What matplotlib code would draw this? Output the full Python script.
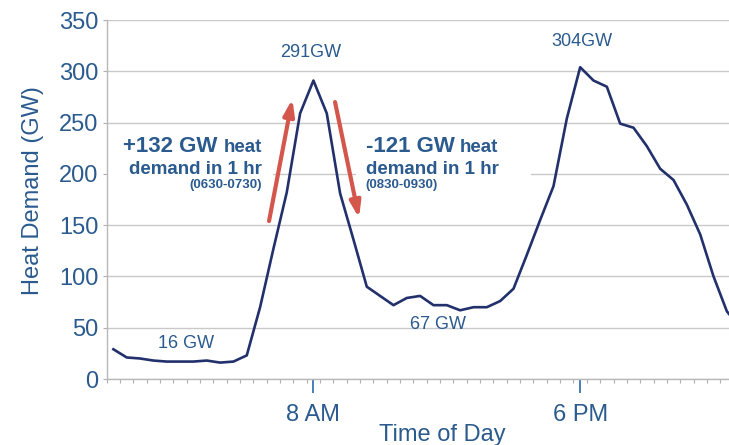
import matplotlib
matplotlib.use("Agg")
import matplotlib.pyplot as plt
import numpy as np
from matplotlib.patches import Rectangle

plt.rcParams["font.family"] = ["Liberation Sans", "DejaVu Sans"]

# half-hourly heat demand (GW), 00:30 .. 24:00
hours = np.arange(0.5, 24.01, 0.5)
demand = [29, 21, 20, 18, 17, 17, 17, 18, 16, 17,
          23, 70, 127, 182, 259, 291, 259, 181, 136, 90,
          81, 72, 79, 81, 72, 72, 67, 70, 70, 76,
          88, 121, 155, 188, 254, 304, 291, 285, 249, 245,
          227, 205, 194, 170, 141, 100, 66, 50]

major_ticks = [8, 18]
major_labels = ["8 AM", "6 PM"]
y_ticks = [0, 50, 100, 150, 200, 250, 300, 350]

# point labels: (hour, GW, text)
point_labels = [(7.9, 318, "291GW"), (18.05, 329, "304GW"),
                (3.23, 35, "16 GW"), (12.66, 53, "67 GW")]

TEXT = "#2a5a8e"
LINE = "#22306c"
RED = "#d4574e"
GRID = "#c9c9c9"

fig = plt.figure(figsize=(7.29, 4.45), dpi=100)
ax = fig.add_axes([0.1464, 0.1483, 0.8536, 0.8067])

ax.plot(hours, demand, color=LINE, lw=1.9, zorder=4)

ax.set_xlim(0.25, 23.58)
ax.set_ylim(0, 350)
ax.set_yticks(y_ticks)
ax.yaxis.grid(True, color=GRID, lw=1.0)
ax.set_axisbelow(True)

ax.set_xticks(major_ticks)
ax.set_xticklabels(major_labels)
ax.set_xticks(np.arange(0.25, 23.6, 0.5), minor=True)
ax.tick_params(axis="x", which="major", length=10, width=1.4, color="#4a7ebb",
               labelsize=17, labelcolor=TEXT, pad=8)
ax.tick_params(axis="x", which="minor", length=3, width=0.8, color="#b0b0b0")
ax.tick_params(axis="y", length=3, width=0.8, color="#b0b0b0",
               labelsize=17, labelcolor=TEXT, pad=3)

for side in ["top", "right"]:
    ax.spines[side].set_visible(False)
for side in ["left", "bottom"]:
    ax.spines[side].set_color("#b8b8b8")
    ax.spines[side].set_linewidth(1.0)

ax.set_xlabel("Time of Day", fontsize=17, color=TEXT)
ax.xaxis.set_label_coords(0.54, -0.125)
ax.set_ylabel("Heat Demand (GW)", fontsize=17, color=TEXT)
ax.yaxis.set_label_coords(-0.1, 0.524)

for x, y, s in point_labels:
    ax.text(x, y, s, fontsize=13, color=TEXT, ha="center", va="center", zorder=5)

# white boxes behind the two callouts (hide the 200 gridline)
ax.add_patch(Rectangle((0.25, 179), 6.22, 59, facecolor="white",
                       edgecolor="none", zorder=2))
ax.add_patch(Rectangle((9.59, 179), 6.56, 59, facecolor="white",
                       edgecolor="none", zorder=2))

# left callout, right aligned
heat_l = ax.text(6.06, 221, "heat", fontsize=13.5, fontweight="bold",
                 color=TEXT, ha="right", va="baseline", zorder=5)
ax.annotate("+132 GW", xy=(0, 221), xycoords=(heat_l, "data"),
            xytext=(-4, 0), textcoords="offset points", fontsize=16,
            fontweight="bold", color=TEXT, ha="right", va="baseline", zorder=5)
ax.text(6.06, 200, "demand in 1 hr", fontsize=13.5, fontweight="bold",
        color=TEXT, ha="right", va="baseline", zorder=5)
ax.text(6.06, 186, "(0630-0730)", fontsize=9.5, fontweight="bold",
        color=TEXT, ha="right", va="baseline", zorder=5)

# right callout, left aligned
big_r = ax.text(9.96, 221, "-121 GW", fontsize=16, fontweight="bold",
                color=TEXT, ha="left", va="baseline", zorder=5)
ax.annotate("heat", xy=(1, 221), xycoords=(big_r, "data"),
            xytext=(4, 0), textcoords="offset points", fontsize=13.5,
            fontweight="bold", color=TEXT, ha="left", va="baseline", zorder=5)
ax.text(9.96, 200, "demand in 1 hr", fontsize=13.5, fontweight="bold",
        color=TEXT, ha="left", va="baseline", zorder=5)
ax.text(9.96, 186, "(0830-0930)", fontsize=9.5, fontweight="bold",
        color=TEXT, ha="left", va="baseline", zorder=5)

# ramp arrows
arrow = dict(arrowstyle="-|>,head_length=0.95,head_width=0.32", color=RED,
             lw=3, shrinkA=0, shrinkB=0, mutation_scale=10)
ax.annotate("", xy=(7.21, 273), xytext=(6.335, 154), arrowprops=arrow, zorder=6)
ax.annotate("", xy=(9.71, 157), xytext=(8.81, 270), arrowprops=arrow, zorder=6)

fig.savefig("out.png", dpi=100)
